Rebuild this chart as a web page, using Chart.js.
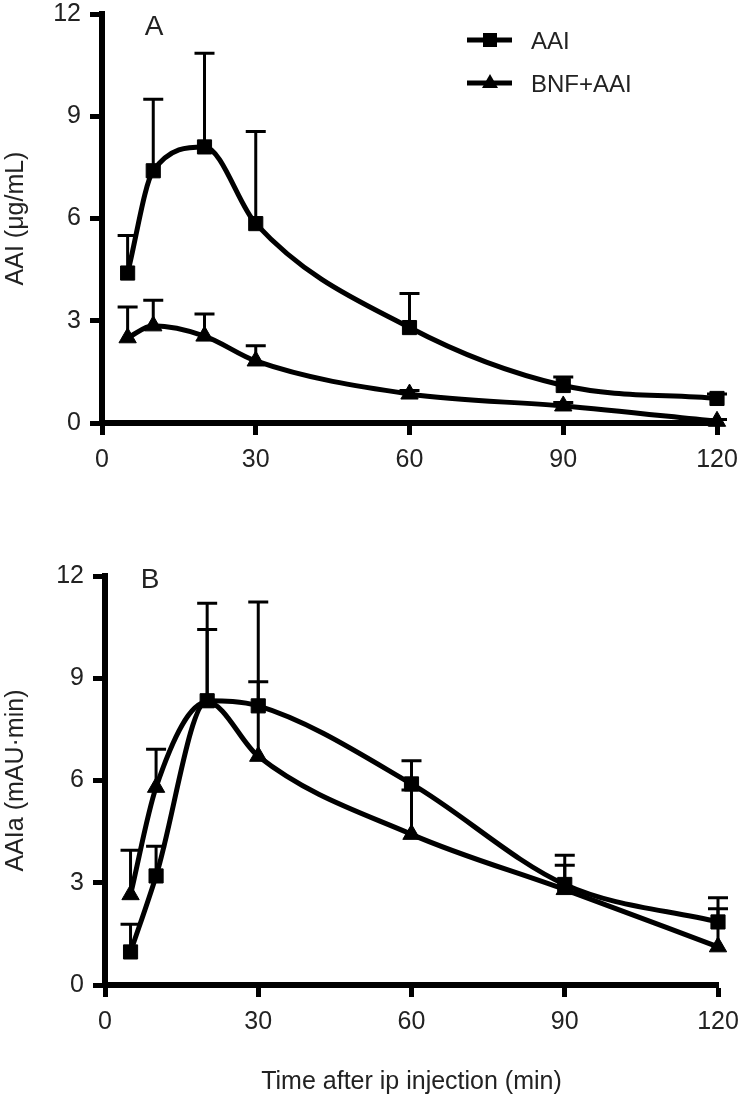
<!DOCTYPE html>
<html>
<head>
<meta charset="utf-8">
<script src="https://cdn.jsdelivr.net/npm/chart.js@4.4.1/dist/chart.umd.min.js"></script>
<style>
  body { margin: 0; background: #fff; }
  #wrap { position: relative; width: 740px; height: 1097px; }
  canvas { position: absolute; left: 0; }
  #chartA { top: 0; }
  #chartB { top: 540px; }
</style>
</head>
<body>
<div id="wrap">
  <canvas id="chartA" width="740" height="500"></canvas>
  <canvas id="chartB" width="740" height="557"></canvas>
</div>
<script>
// Sampling times after ip injection (min)
const times = [5, 10, 20, 30, 60, 90, 120];
const xTicks = [0, 30, 60, 90, 120];
const yTicks = [0, 3, 6, 9, 12];
const seriesNames = ['AAI', 'BNF+AAI'];

// Panel A: AAI (ug/mL), mean and upper error (SD)
const aaiA = [4.4, 7.4, 8.1, 5.85, 2.8, 1.1, 0.72];
const aaiAErr = [1.1, 2.1, 2.75, 2.7, 1.0, 0.25, 0.13];
const bnfA = [2.5, 2.85, 2.55, 1.82, 0.85, 0.5, 0.05];
const bnfAErr = [0.9, 0.75, 0.65, 0.45, 0.1, 0.1, 0.05];

// Panel B: AAIa (mAU.min)
const aaiB = [0.97, 3.2, 8.34, 8.19, 5.9, 2.95, 1.85];
const aaiBErr = [0.81, 0.87, 2.86, 3.05, 0.68, 0.86, 0.71];
const bnfB = [2.65, 5.8, 8.3, 6.71, 4.42, 2.8, 1.12];
const bnfBErr = [1.3, 1.12, 2.13, 2.19, 1.3, 0.71, 1.12];

const FONT = "'Liberation Sans', Arial, sans-serif";
const TEXT = '#222';

// draws one-sided (upper) error bars with caps
const errorBars = {
  id: 'errorBars',
  beforeDatasetsDraw(chart) {
    const ctx = chart.ctx;
    const yScale = chart.scales.y;
    ctx.save();
    ctx.strokeStyle = '#000';
    ctx.lineWidth = 3;
    chart.data.datasets.forEach((ds, i) => {
      const meta = chart.getDatasetMeta(i);
      meta.data.forEach((pt, j) => {
        const err = ds.errors[j];
        if (!err) return;
        const top = yScale.getPixelForValue(ds.data[j].y + err);
        ctx.beginPath();
        ctx.moveTo(pt.x, pt.y);
        ctx.lineTo(pt.x, top);
        ctx.moveTo(pt.x - 10, top);
        ctx.lineTo(pt.x + 10, top);
        ctx.stroke();
      });
    });
    ctx.restore();
  }
};

// panel letter and the line+marker legend
const panelText = {
  id: 'panelText',
  afterDraw(chart, args, opts) {
    const ctx = chart.ctx;
    ctx.save();
    ctx.fillStyle = TEXT;
    ctx.font = '28px ' + FONT;
    ctx.textAlign = 'center';
    ctx.textBaseline = 'middle';
    ctx.fillText(opts.letter, opts.x, opts.y);
    if (opts.legend) {
      chart.data.datasets.forEach((ds, i) => {
        const y = 40 + i * 43;
        ctx.strokeStyle = '#000';
        ctx.lineWidth = 5;
        ctx.beginPath();
        ctx.moveTo(467, y);
        ctx.lineTo(512, y);
        ctx.stroke();
        ctx.fillStyle = '#000';
        if (ds.pointStyle === 'rect') {
          ctx.fillRect(483, y - 7, 14, 14);
        } else {
          ctx.beginPath();
          ctx.moveTo(490, y - 9);
          ctx.lineTo(498, y + 5);
          ctx.lineTo(482, y + 5);
          ctx.closePath();
          ctx.fill();
        }
        ctx.fillStyle = TEXT;
        ctx.font = '24px ' + FONT;
        ctx.textAlign = 'left';
        ctx.fillText(ds.label, 531, y + 2);
      });
    }
    ctx.restore();
  }
};

function series(label, vals, errs, style) {
  return {
    label: label,
    data: times.map((t, i) => ({ x: t, y: vals[i] })),
    errors: errs,
    pointStyle: style,
    pointRadius: 10,
    pointBorderWidth: 1,
    pointBackgroundColor: '#000',
    pointBorderColor: '#000',
    borderColor: '#000',
    borderWidth: 5,
    cubicInterpolationMode: 'monotone',
    clip: false,
    fill: false
  };
}

function axisStyle() {
  return {
    border: { display: true, color: '#000', width: 6 },
    grid: { drawOnChartArea: false, drawTicks: true, tickLength: 12, tickWidth: 5, tickColor: '#000' }
  };
}

function makeChart(id, a, aErr, b, bErr, cfg) {
  return new Chart(document.getElementById(id), {
    type: 'line',
    data: {
      datasets: [
        series(seriesNames[0], a, aErr, 'rect'),
        series(seriesNames[1], b, bErr, 'triangle')
      ]
    },
    plugins: [errorBars, panelText],
    options: {
      responsive: false,
      animation: false,
      layout: { padding: { top: cfg.top, right: cfg.right, left: 0, bottom: 0 } },
      plugins: {
        legend: { display: false },
        tooltip: { enabled: false },
        panelText: { letter: cfg.letter, x: cfg.lx, y: cfg.ly, legend: cfg.legend }
      },
      scales: {
        x: Object.assign(axisStyle(), {
          type: 'linear',
          min: xTicks[0],
          max: xTicks[xTicks.length - 1],
          afterBuildTicks: s => { s.ticks = xTicks.map(v => ({ value: v })); },
          afterFit: s => { s.height = cfg.xh; s.paddingLeft = 0; s.paddingRight = 0; },
          ticks: { color: TEXT, font: { family: FONT, size: 25 }, padding: 10, maxRotation: 0 },
          title: {
            display: !!cfg.xTitle,
            text: cfg.xTitle || '',
            color: TEXT,
            font: { family: FONT, size: 25 },
            padding: { top: 2, bottom: 0 }
          }
        }),
        y: Object.assign(axisStyle(), {
          min: yTicks[0],
          max: yTicks[yTicks.length - 1],
          afterBuildTicks: s => { s.ticks = yTicks.map(v => ({ value: v })); },
          afterFit: s => { s.width = cfg.yw; s.paddingTop = 0; s.paddingBottom = 0; },
          ticks: { color: TEXT, font: { family: FONT, size: 25 }, padding: 9 },
          title: {
            display: true,
            text: cfg.yTitle,
            color: TEXT,
            font: { family: FONT, size: 25 },
            padding: { top: 1, bottom: 0 }
          }
        })
      }
    }
  });
}

makeChart('chartA', aaiA, aaiAErr, bnfA, bnfAErr, {
  top: 14, right: 23, xh: 77, yw: 102,
  letter: 'A', lx: 154, ly: 27, legend: true,
  yTitle: 'AAI (μg/mL)'
});

makeChart('chartB', aaiB, aaiBErr, bnfB, bnfBErr, {
  top: 36, right: 22, xh: 112, yw: 105,
  letter: 'B', lx: 150, ly: 40, legend: false,
  yTitle: 'AAIa (mAU·min)',
  xTitle: 'Time after ip injection (min)'
});
</script>
</body>
</html>
